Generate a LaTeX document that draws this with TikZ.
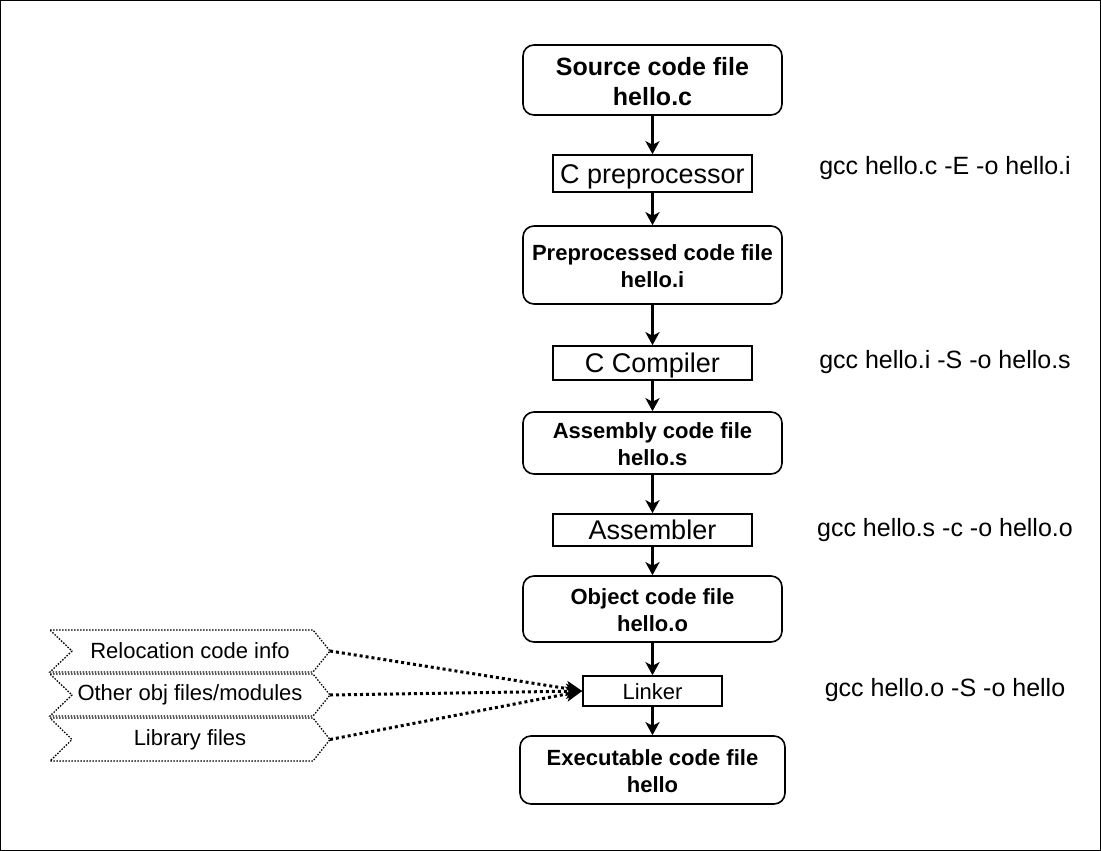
\documentclass[tikz,border=0pt]{standalone}
\usepackage{fontspec}
\setmainfont{Liberation Sans}
\usetikzlibrary{arrows.meta}
\begin{document}
\begin{tikzpicture}[x=1pt,y=-1pt,
  file/.style={draw, line width=1.6pt, rounded corners=11pt, align=center, inner sep=0pt,
    font=\bfseries\fontsize{22}{27}\selectfont},
  proc/.style={draw, line width=1.6pt, inner sep=0pt, font=\fontsize{27}{32}\selectfont,
    text height=25pt, text depth=5.5pt},
  cmd/.style={inner sep=0pt, font=\fontsize{25}{30}\selectfont},
  chevtext/.style={inner sep=0pt, font=\fontsize{22}{26}\selectfont},
  chev/.style={line width=1.3pt, dash pattern=on 1.5pt off 1.5pt},
  arr/.style={line width=2.5pt, -{Stealth[length=13pt,width=14pt,inset=3.5pt]}},
  dotarr/.style={line width=3pt, dash pattern=on 3pt off 3pt, -{Stealth[length=16pt,width=15pt,inset=4pt]}}
]
\useasboundingbox (0,0) rectangle (1101,851);
\draw[line width=1pt] (0.5,0.5) rectangle (1100.5,850.5);

\node[file, minimum width=259pt, minimum height=70pt, font=\bfseries\fontsize{25}{30}\selectfont] (src) at (652.5,80) {\strut Source code file\\hello.c};
\node[proc, minimum width=199pt, minimum height=37pt] (cpp) at (652.5,173.5) {C preprocessor};
\node[file, minimum width=259pt, minimum height=78pt] (pre) at (652.5,265) {\strut Preprocessed code file\\hello.i};
\node[proc, minimum width=199pt, minimum height=34pt] (cc) at (652.5,363) {C Compiler};
\node[file, minimum width=259pt, minimum height=62pt] (asmf) at (652.5,443) {\strut Assembly code file\\hello.s};
\node[proc, minimum width=199pt, minimum height=32pt] (as) at (652.5,530) {Assembler};
\node[file, minimum width=259pt, minimum height=66pt] (obj) at (652.5,609) {\strut Object code file\\hello.o};
\node[proc, minimum width=139pt, minimum height=30pt, font=\fontsize{22}{26}\selectfont, text height=17pt, text depth=0pt] (ld) at (652.5,691) {Linker};
\node[file, minimum width=265pt, minimum height=68pt] (exe) at (652.5,770) {\strut Executable code file\\hello};

\draw[arr] (src) -- (cpp);
\draw[arr] (cpp) -- (pre);
\draw[arr] (pre) -- (cc);
\draw[arr] (cc) -- (asmf);
\draw[arr] (asmf) -- (as);
\draw[arr] (as) -- (obj);
\draw[arr] (obj) -- (ld);
\draw[arr] (ld) -- (exe);

\node[cmd] (c1) at (945,168) {gcc hello.c -E -o hello.i};
\node[cmd] (c2) at (945,362) {gcc hello.i -S -o hello.s};
\node[cmd] (c3) at (945,530) {gcc hello.s -c -o hello.o};
\node[cmd] (c4) at (945,690) {gcc hello.o -S -o hello};

\draw[chev] (50,630) -- (313,630) -- (330,651) -- (313,672) -- (50,672) -- (72,651) -- cycle;
\draw[chev] (50,674) -- (313,674) -- (330,695) -- (313,716) -- (50,716) -- (72,695) -- cycle;
\draw[chev] (50,718) -- (313,718) -- (330,739.5) -- (313,761) -- (50,761) -- (72,739.5) -- cycle;
\node[chevtext] (r1) at (190,651) {Relocation code info};
\node[chevtext] (r2) at (190,695) {Other obj files/modules};
\node[chevtext] (r3) at (190,739.5) {Library files};
\coordinate (r1e) at (330,651);
\coordinate (r2e) at (330,695);
\coordinate (r3e) at (330,739.5);

\draw[dotarr] (r1e) -- (ld.west);
\draw[dotarr] (r2e) -- (ld.west);
\draw[dotarr] (r3e) -- (ld.west);
\end{tikzpicture}
\end{document}
